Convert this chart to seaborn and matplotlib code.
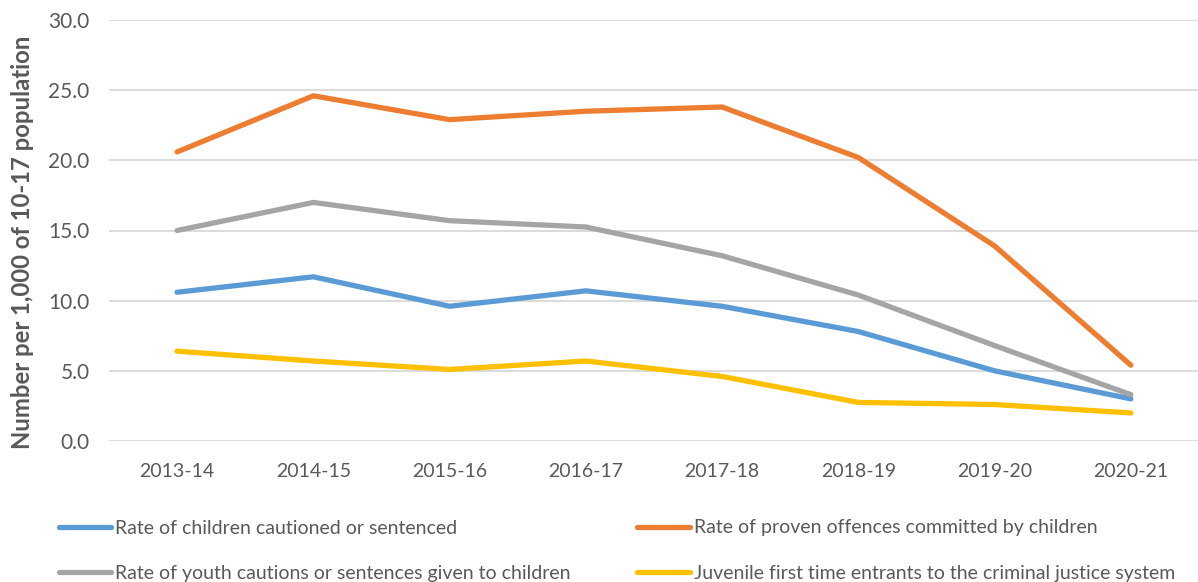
import matplotlib
matplotlib.use('Agg')
from matplotlib import pyplot as plt
import seaborn as sns
import pandas as pd

years = ['2013-14', '2014-15', '2015-16', '2016-17', '2017-18', '2018-19', '2019-20', '2020-21']

cautioned_sentenced = [10.6, 11.7, 9.6, 10.7, 9.6, 7.8, 5.0, 3.0]
proven_offences = [20.6, 24.6, 22.9, 23.5, 23.8, 20.2, 13.9, 5.4]
youth_cautions = [15.0, 17.0, 15.7, 15.25, 13.2, 10.4, 6.8, 3.3]
first_time_entrants = [6.4, 5.7, 5.1, 5.7, 4.6, 2.75, 2.6, 2.0]

series_names = [
    'Rate of children cautioned or sentenced',
    'Rate of proven offences committed by children',
    'Rate of youth cautions or sentences given to children',
    'Juvenile first time entrants to the criminal justice system',
]
series_colors = ['#5b9bd5', '#ed7d31', '#a5a5a5', '#ffc000']


def build_frame():
    rows = []
    for name, vals in zip(series_names,
                          [cautioned_sentenced, proven_offences, youth_cautions, first_time_entrants]):
        for yr, v in zip(years, vals):
            rows.append({'year': yr, 'value': v, 'series': name})
    return pd.DataFrame(rows)


def plot_rates():
    df = build_frame()
    sns.set_style('white')
    plt.rcParams['font.family'] = ['Lato', 'DejaVu Sans']

    fig = plt.figure(figsize=(11.98, 5.82), dpi=100)
    ax = fig.add_axes([109 / 1198, 1 - 441 / 582, 1090 / 1198, 421 / 582])

    sns.lineplot(data=df, x='year', y='value', hue='series', hue_order=series_names,
                 palette=series_colors, linewidth=3.8, sort=False, ax=ax, legend=False)
    for line in ax.lines:
        line.set_solid_capstyle('round')
        line.set_solid_joinstyle('round')

    ax.set_xlim(-0.5, len(years) - 0.5)
    ax.set_ylim(0, 30)
    ax.set_yticks([0, 5, 10, 15, 20, 25, 30])
    ax.set_yticklabels(['%.1f' % t for t in ax.get_yticks()])
    ax.yaxis.grid(True, color='#d9d9d9', linewidth=1.3)
    ax.set_axisbelow(True)
    for s in ax.spines.values():
        s.set_visible(False)
    ax.tick_params(axis='both', length=0, labelsize=14, colors='#595959')
    ax.tick_params(axis='y', pad=14, labelsize=15)
    ax.tick_params(axis='x', pad=16)
    ax.set_xlabel('')
    ax.set_ylabel('Number per 1,000 of 10-17 population', fontsize=17.2, fontweight='bold',
                  color='#595959')
    ax.yaxis.set_label_coords(-75 / 1090, 0.473)

    handles = [plt.Line2D([], [], color=c, linewidth=3.8, solid_capstyle='round') for c in series_colors]
    order = [0, 2, 1, 3]
    fig.legend([handles[i] for i in order], [series_names[i] for i in order],
               loc='upper left', bbox_to_anchor=(41 / 1198, 1 - 502 / 582), ncol=2,
               frameon=False, fontsize=14, handlelength=2.7, handletextpad=0.2,
               columnspacing=3.45, labelspacing=1.45, labelcolor='#595959')

    fig.savefig('out.png', dpi=100)


if __name__ == '__main__':
    plot_rates()
